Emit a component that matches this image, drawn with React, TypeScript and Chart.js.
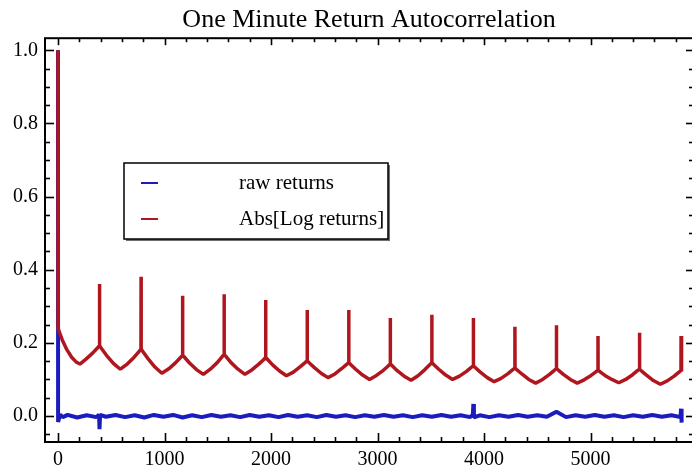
import React, { useEffect, useRef } from "react";
import { Chart, registerables } from "chart.js";

Chart.register(...registerables);

const chartTitle = "One Minute Return Autocorrelation";
const seriesLabels = ["raw returns", "Abs[Log returns]"];
const seriesColors = ["rgb(28,28,190)", "rgb(176,22,30)"];

const xTickValues = [0, 1000, 2000, 3000, 4000, 5000];
const xMinorTicks = [-200, 200, 400, 600, 800, 1200, 1400, 1600, 1800, 2200, 2400, 2600, 2800, 3200, 3400, 3600, 3800, 4200, 4400, 4600, 4800, 5200, 5400, 5600, 5800];
const yTickValues = [0, 0.2, 0.4, 0.6, 0.8, 1.0];
const yMinorTicks = [-0.05, 0.05, 0.1, 0.15, 0.25, 0.3, 0.35, 0.45, 0.5, 0.55, 0.65, 0.7, 0.75, 0.85, 0.9, 0.95];

const blueLags = [0, 1, 20, 45, 90, 180, 270, 360, 385, 390, 395, 450, 540, 630, 720, 810, 900, 990, 1080, 1170, 1260, 1350, 1440, 1530, 1620, 1710, 1800, 1890, 1980, 2070, 2160, 2250, 2340, 2430, 2520, 2610, 2700, 2790, 2880, 2970, 3060, 3150, 3240, 3330, 3420, 3510, 3600, 3690, 3780, 3870, 3895, 3900, 3905, 3960, 4050, 4140, 4230, 4320, 4410, 4500, 4590, 4680, 4770, 4860, 4950, 5040, 5130, 5220, 5310, 5400, 5490, 5580, 5670, 5760, 5845, 5850, 5855];
const blueValues = [1.0, -0.016, 0.004, -0.003, 0.003, -0.004, 0.002, -0.003, 0.004, -0.036, 0.003, -0.002, 0.003, -0.003, 0.002, -0.004, 0.003, -0.002, 0.003, -0.004, 0.002, -0.003, 0.003, -0.002, 0.002, -0.003, 0.003, -0.002, 0.002, -0.003, 0.003, -0.002, 0.002, -0.003, 0.003, -0.002, 0.002, -0.003, 0.002, -0.002, 0.003, -0.002, 0.002, -0.003, 0.002, -0.002, 0.003, -0.002, 0.002, -0.003, 0.004, 0.033, -0.004, 0.002, -0.003, 0.002, -0.002, 0.003, -0.002, 0.002, -0.002, 0.012, -0.003, 0.002, -0.002, 0.003, -0.002, 0.002, -0.003, 0.002, -0.002, 0.003, -0.002, 0.002, -0.003, 0.02, -0.018];

const redLags = [
  0, 1, 15, 40, 80, 130, 170, 206,
  260, 325, 370, 389, 390, 391, 410, 455, 520, 585,
  650, 715, 760, 779, 780, 781, 800, 845, 910, 975,
  1040, 1105, 1150, 1169, 1170, 1171, 1190, 1235, 1300, 1365,
  1430, 1495, 1540, 1559, 1560, 1561, 1580, 1625, 1690, 1755,
  1820, 1885, 1930, 1949, 1950, 1951, 1970, 2015, 2080, 2145,
  2210, 2275, 2320, 2339, 2340, 2341, 2360, 2405, 2470, 2535,
  2600, 2665, 2710, 2729, 2730, 2731, 2750, 2795, 2860, 2925,
  2990, 3055, 3100, 3119, 3120, 3121, 3140, 3185, 3250, 3315,
  3380, 3445, 3490, 3509, 3510, 3511, 3530, 3575, 3640, 3705,
  3770, 3835, 3880, 3899, 3900, 3901, 3920, 3965, 4030, 4095,
  4160, 4225, 4270, 4289, 4290, 4291, 4310, 4355, 4420, 4485,
  4550, 4615, 4660, 4679, 4680, 4681, 4700, 4745, 4810, 4875,
  4940, 5005, 5050, 5069, 5070, 5071, 5090, 5135, 5200, 5265,
  5330, 5395, 5440, 5459, 5460, 5461, 5480, 5525, 5590, 5655,
  5720, 5785, 5830, 5849, 5850, 5851, 5858,
];
const redValues = [
  1.0, 0.240, 0.228, 0.208, 0.183, 0.160, 0.148, 0.142,
  0.155, 0.172, 0.186, 0.192, 0.361, 0.192, 0.184, 0.166, 0.144, 0.128,
  0.142, 0.161, 0.176, 0.183, 0.381, 0.183, 0.175, 0.157, 0.134, 0.117,
  0.129, 0.146, 0.160, 0.166, 0.329, 0.166, 0.160, 0.145, 0.127, 0.114,
  0.128, 0.146, 0.162, 0.168, 0.333, 0.168, 0.162, 0.146, 0.128, 0.114,
  0.126, 0.142, 0.154, 0.160, 0.317, 0.160, 0.154, 0.140, 0.123, 0.110,
  0.120, 0.135, 0.146, 0.151, 0.290, 0.151, 0.145, 0.133, 0.117, 0.105,
  0.115, 0.130, 0.141, 0.146, 0.290, 0.146, 0.140, 0.128, 0.112, 0.100,
  0.111, 0.125, 0.137, 0.142, 0.268, 0.142, 0.137, 0.124, 0.109, 0.098,
  0.110, 0.127, 0.140, 0.146, 0.277, 0.146, 0.140, 0.128, 0.112, 0.100,
  0.109, 0.122, 0.133, 0.137, 0.268, 0.137, 0.132, 0.120, 0.105, 0.094,
  0.103, 0.116, 0.127, 0.131, 0.244, 0.131, 0.126, 0.115, 0.100, 0.090,
  0.100, 0.114, 0.125, 0.130, 0.248, 0.130, 0.125, 0.114, 0.100, 0.090,
  0.099, 0.111, 0.121, 0.125, 0.219, 0.125, 0.121, 0.111, 0.100, 0.091,
  0.100, 0.113, 0.124, 0.128, 0.228, 0.128, 0.123, 0.112, 0.097, 0.087,
  0.096, 0.109, 0.120, 0.124, 0.219, 0.124, 0.122,
];

const SERIF = "'Liberation Serif', 'Times New Roman', serif";

const frameTicksPlugin = {
  id: "frameTicks",
  afterDatasetsDraw(chart: any) {
    const { ctx, chartArea } = chart;
    const { left, right, top, bottom } = chartArea;
    const x = chart.scales.x;
    const y = chart.scales.y;
    ctx.save();
    ctx.strokeStyle = "#000";
    ctx.lineWidth = 2;
    ctx.strokeRect(left, top, right - left, bottom - top);
    ctx.lineWidth = 1.6;
    const line = (x1: number, y1: number, x2: number, y2: number) => {
      ctx.beginPath();
      ctx.moveTo(x1, y1);
      ctx.lineTo(x2, y2);
      ctx.stroke();
    };
    const xIn = (v: number) => v >= x.min && v <= x.max;
    const yIn = (v: number) => v >= y.min && v <= y.max;
    xTickValues.filter(xIn).forEach((v) => {
      const px = Math.round(x.getPixelForValue(v)) + 0.5;
      line(px, bottom, px, bottom - 9);
      line(px, top, px, top + 7);
    });
    xMinorTicks.filter(xIn).forEach((v) => {
      const px = Math.round(x.getPixelForValue(v)) + 0.5;
      line(px, bottom, px, bottom - 5);
      line(px, top, px, top + 4);
    });
    yTickValues.filter(yIn).forEach((v) => {
      const py = Math.round(y.getPixelForValue(v)) + 0.5;
      line(left, py, left + 9, py);
      line(right, py, right - 7, py);
    });
    yMinorTicks.filter(yIn).forEach((v) => {
      const py = Math.round(y.getPixelForValue(v)) + 0.5;
      line(left, py, left + 5, py);
      line(right, py, right - 4, py);
    });
    ctx.restore();
  },
};

const boxLegendPlugin = {
  id: "boxLegend",
  afterDraw(chart: any) {
    const { ctx } = chart;
    const bx = 124, by = 163, bw = 264, bh = 76;
    ctx.save();
    ctx.fillStyle = "rgb(110,110,110)";
    ctx.fillRect(bx + 2, by + 2, bw, bh);
    ctx.fillStyle = "#fff";
    ctx.fillRect(bx, by, bw, bh);
    ctx.strokeStyle = "#000";
    ctx.lineWidth = 1.5;
    ctx.strokeRect(bx, by, bw, bh);
    const rows = [183, 219];
    const order = [0, 1];
    order.forEach((di, i) => {
      const ds = chart.data.datasets[di];
      ctx.strokeStyle = ds.borderColor;
      ctx.lineWidth = 2;
      ctx.beginPath();
      ctx.moveTo(141, rows[i]);
      ctx.lineTo(158, rows[i]);
      ctx.stroke();
      ctx.fillStyle = "#000";
      ctx.font = `21px ${SERIF}`;
      ctx.textBaseline = "middle";
      ctx.textAlign = "left";
      ctx.fillText(ds.label, 239, rows[i]);
    });
    ctx.restore();
  },
};

export default function App() {
  const canvasRef = useRef<HTMLCanvasElement | null>(null);

  useEffect(() => {
    if (!canvasRef.current) return;
    const chart = new Chart(canvasRef.current, {
      type: "line",
      data: {
        datasets: [
          {
            label: seriesLabels[0],
            data: blueLags.map((lag, i) => ({ x: lag, y: blueValues[i] })),
            borderColor: seriesColors[0],
            backgroundColor: seriesColors[0],
            borderWidth: 4,
            borderJoinStyle: "bevel",
            pointRadius: 0,
            tension: 0,
            order: 1,
          },
          {
            label: seriesLabels[1],
            data: redLags.map((lag, i) => ({ x: lag, y: redValues[i] })),
            borderColor: seriesColors[1],
            backgroundColor: seriesColors[1],
            borderWidth: 3.5,
            borderJoinStyle: "bevel",
            pointRadius: 0,
            tension: 0,
            order: 0,
          },
        ],
      },
      options: {
        animation: false,
        responsive: false,
        parsing: false as any,
        layout: { padding: { left: 6, right: 7, top: 0, bottom: -7 } },
        plugins: {
          legend: { display: false },
          tooltip: { enabled: false },
          title: {
            display: true,
            text: chartTitle,
            color: "#000",
            fullSize: false,
            font: { family: SERIF, size: 26, weight: "normal" as any },
            padding: { top: 5, bottom: 2 },
          },
        },
        scales: {
          x: {
            type: "linear",
            min: -122,
            max: 5962,
            grid: { display: false, drawTicks: false },
            border: { display: false },
            ticks: {
              color: "#000",
              font: { family: SERIF, size: 20 },
              padding: 6,
              maxRotation: 0,
              autoSkip: false,
              callback: (v: any) => String(v),
            },
            afterBuildTicks: (axis: any) => {
              axis.ticks = xTickValues.map((v) => ({ value: v }));
            },
          },
          y: {
            type: "linear",
            min: -0.071,
            max: 1.033,
            grid: { display: false, drawTicks: false },
            border: { display: false },
            ticks: {
              color: "#000",
              font: { family: SERIF, size: 20 },
              padding: 7,
              autoSkip: false,
              callback: (v: any) => Number(v).toFixed(1),
            },
            afterBuildTicks: (axis: any) => {
              axis.ticks = yTickValues.map((v) => ({ value: v }));
            },
          },
        },
      },
      plugins: [frameTicksPlugin, boxLegendPlugin],
    });
    return () => chart.destroy();
  }, []);

  return (
    <div style={{ position: "fixed", left: 0, top: 0, width: 700, height: 471, background: "#fff" }}>
      <canvas ref={canvasRef} width={700} height={471} style={{ display: "block" }} />
    </div>
  );
}
